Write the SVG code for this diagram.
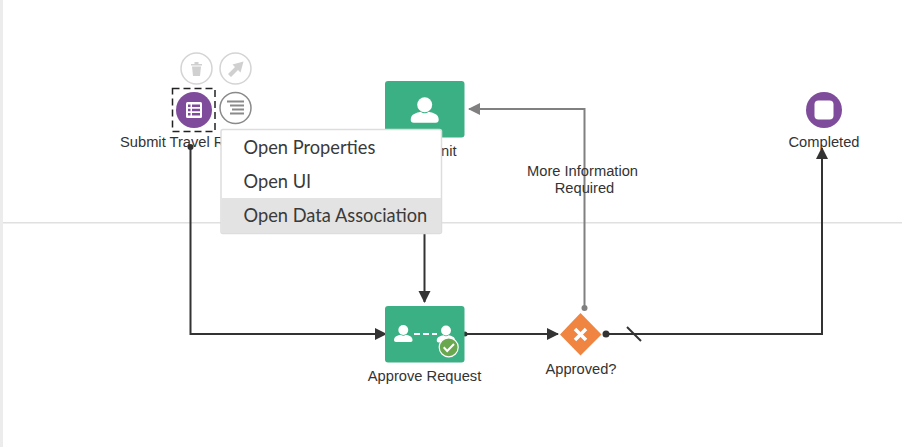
<svg xmlns="http://www.w3.org/2000/svg" width="902" height="447" viewBox="0 0 902 447">
<defs>
<style>
.lb{font-family:"Liberation Sans",Arial,sans-serif;font-size:14.7px;fill:#333}
.mi{font-family:Lato,"Open Sans",sans-serif;font-size:18.250px;fill:#3a3a3a}
.dk{fill:none;stroke:#333;stroke-width:2}
.gy{fill:none;stroke:#808080;stroke-width:2}
.task{fill:#3cb085}
.wh{fill:#fff}
.ic{fill:#fff;stroke:#d4d4d4;stroke-width:1.5}
</style>
<marker id="ad" markerUnits="userSpaceOnUse" markerWidth="13" markerHeight="14" refX="11" refY="7" orient="auto"><path d="M0 1L12 7L0 13Z" fill="#333"/></marker>
<marker id="ag" markerUnits="userSpaceOnUse" markerWidth="13" markerHeight="14" refX="11" refY="7" orient="auto"><path d="M0 1L12 7L0 13Z" fill="#808080"/></marker>
<g id="person"><circle cx="0" cy="-6" r="7.500" class="wh"/><path d="M-14 9C-14 3-8 2-4 1C-1 3 1 3 4 1C8 2 14 3 14 9C14 11 13 12 11 12L-11 12C-13 12-14 11-14 9Z" class="wh"/></g>
</defs>
<rect width="902" height="447" fill="#fff"/>
<rect x="0" y="0" width="3" height="447" fill="#ececec"/>
<rect x="3" y="222" width="899" height="1.500" fill="#e0e0e0"/>
<g id="connectors">
<path class="dk" d="M190.500 147V334H386" marker-end="url(#ad)"/>
<circle cx="190.500" cy="147" r="3" fill="#333"/>
<path class="dk" d="M424.500 230V302" marker-end="url(#ad)"/>
<path class="dk" d="M465 334H558" marker-end="url(#ad)"/>
<circle cx="465" cy="334" r="2.500" fill="#333"/>
<path class="gy" d="M584.500 308V109H469" marker-end="url(#ag)"/>
<circle cx="584.500" cy="308" r="3" fill="#808080"/>
<path class="dk" d="M606 334H822V148" marker-end="url(#ad)"/>
<circle cx="606" cy="334" r="3.500" fill="#333"/>
<path class="dk" d="M627 327L641 341"/>
</g>
<g id="submit-travel-request">
<circle class="ic" cx="196.500" cy="68.500" r="15.500"/>
<path d="M191 64H202V65.500H191ZM194.500 62H198.500V64H194.500ZM192 66.500H201L200 76H193Z" fill="#d0d0d0"/>
<circle class="ic" cx="235.500" cy="68.500" r="15.500"/>
<path d="M243.500 61.500L240.500 72.500L238 70L231 77L228 74L235 67L232.500 64.500Z" fill="#d0d0d0"/>
<circle cx="235.500" cy="108" r="15.500" fill="#fff" stroke="#8a8a8a" stroke-width="1.500"/>
<path d="M227 100.500H244V102.500H227ZM230 104.500H244V106.500H230ZM232 108.500H244V110.500H232ZM230 112.500H244V114.500H230Z" fill="#8a8a8a"/>
<rect x="172.500" y="88.500" width="42.500" height="43" fill="none" stroke="#222" stroke-width="1.500" stroke-dasharray="7 4"/>
<circle cx="194" cy="110" r="18" fill="#7f4c9b"/>
<rect x="186" y="102" width="16" height="16" rx="1.500" fill="#fff"/>
<path d="M188 104.500H190.500V107H188ZM192 104.500H200V107H192ZM188 108.700H190.500V111.200H188ZM192 108.700H200V111.200H192ZM188 113H190.500V115.500H188ZM192 113H200V115.500H192Z" fill="#7f4c9b"/>
<text class="lb" x="120" y="146.500">Submit Travel R</text>
</g>
<g id="submit">
<rect class="task" x="385" y="81" width="79.500" height="56.500" rx="3"/>
<use href="#person" x="424.700" y="110.700"/>
<text class="lb" x="441" y="156">nit</text>
</g>
<g id="approve-request">
<rect class="task" x="385" y="306" width="79.500" height="56.500" rx="3"/>
<use href="#person" transform="translate(403.300 334) scale(.66)"/>
<path d="M414 334H420M423 334H429M432 334H437" stroke="#fff" stroke-width="2" fill="none"/>
<use href="#person" transform="translate(446 334.500) scale(.66)"/>
<circle cx="448.700" cy="347.300" r="9.500" fill="#6aa84f" stroke="#fff" stroke-width="1.200"/>
<path d="M443.700 347.300L447.200 351L454 344" fill="none" stroke="#fff" stroke-width="2"/>
<text class="lb" x="424.500" y="381" text-anchor="middle">Approve Request</text>
</g>
<g id="approved">
<path d="M580.500 313L601.500 334.500L580.500 355.500L560 334.500Z" fill="#ef8540"/>
<path d="M575 329L586 340M586 329L575 340" stroke="#fff" stroke-width="3.500" fill="none"/>
<text class="lb" x="581" y="374" text-anchor="middle">Approved?</text>
</g>
<g id="completed">
<circle cx="824" cy="110" r="18" fill="#7f4c9b"/>
<rect x="814.500" y="100.500" width="19" height="19" rx="4" fill="#fff"/>
<text class="lb" x="824" y="147" text-anchor="middle">Completed</text>
</g>
<g id="connector-label">
<text class="lb" x="582.500" y="176" text-anchor="middle">More Information</text>
<text class="lb" x="584.500" y="193" text-anchor="middle">Required</text>
</g>
<g id="context-menu">
<rect x="221" y="129.500" width="220.500" height="104" rx="2" fill="#fff" stroke="#ddd" stroke-width="1.500"/>
<rect x="221.500" y="198" width="219.500" height="35" fill="#e3e3e3"/>
<text class="mi" x="243.500" y="154">Open Properties</text>
<text class="mi" x="243.500" y="188">Open UI</text>
<text class="mi" x="243.500" y="222">Open Data Association</text>
</g>
</svg>
